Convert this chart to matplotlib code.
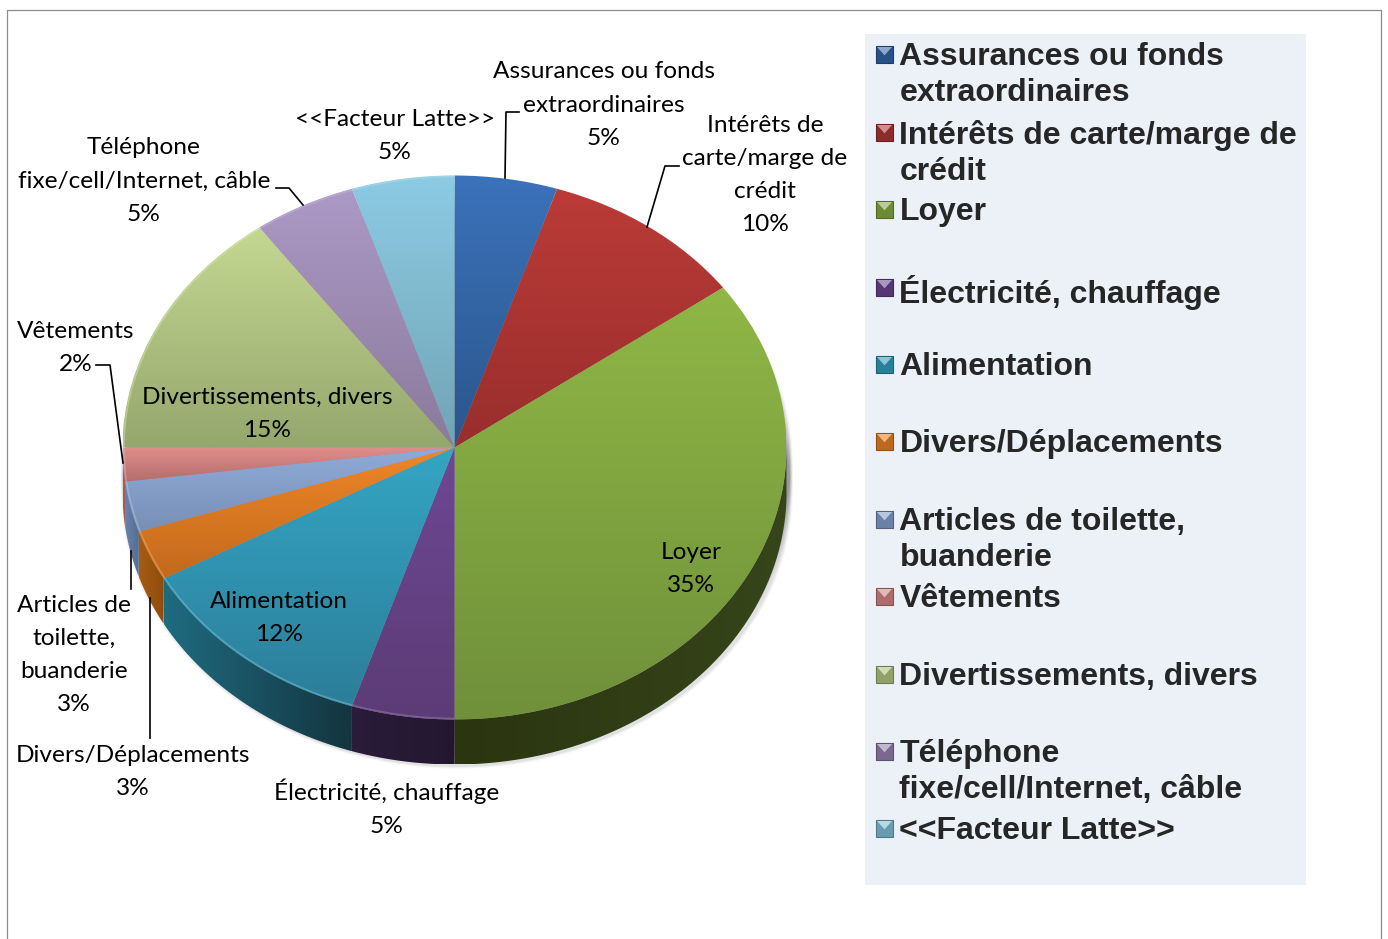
import numpy as np
import matplotlib
matplotlib.use("Agg")
import matplotlib.pyplot as plt
from matplotlib.colors import to_rgb, LinearSegmentedColormap
from matplotlib.patches import Ellipse, Polygon, Rectangle

categories = ["Assurances ou fonds extraordinaires", "Intérêts de carte/marge de crédit", "Loyer",
              "Électricité, chauffage", "Alimentation", "Divers/Déplacements",
              "Articles de toilette, buanderie", "Vêtements", "Divertissements, divers",
              "Téléphone fixe/cell/Internet, câble", "<<Facteur Latte>>"]
values = [5, 10, 35, 5, 12, 3, 3, 2, 15, 5, 5]

label_lines = ["Assurances ou fonds\nextraordinaires", "Intérêts de\ncarte/marge de\ncrédit", "Loyer",
               "Électricité, chauffage", "Alimentation", "Divers/Déplacements",
               "Articles de\ntoilette,\nbuanderie", "Vêtements", "Divertissements, divers",
               "Téléphone\nfixe/cell/Internet, câble", "<<Facteur Latte>>"]
label_xy = [(604, 105), (765, 175), (691, 569), (387, 808), (279, 618), (133, 772),
            (74, 655), (76, 348), (267, 414), (144, 181), (395, 136)]

legend_lines = ["Assurances ou fonds\nextraordinaires", "Intérêts de carte/marge de\ncrédit", "Loyer",
                "Électricité, chauffage", "Alimentation", "Divers/Déplacements",
                "Articles de toilette,\nbuanderie", "Vêtements", "Divertissements, divers",
                "Téléphone\nfixe/cell/Internet, câble", "<<Facteur Latte>>"]
legend_y = [55, 133, 210, 288, 365, 442, 520, 597, 675, 752, 829]

top_colors = ["#3b72ba", "#bb3b38", "#8fb746", "#6e4794", "#34a5c4", "#ef8727",
              "#90abda", "#e28e8c", "#c4d892", "#ac99c6", "#8ccbe4"]
bottom_colors = ["#2b568c", "#992e2c", "#70903a", "#5c3c76", "#2c7e99", "#c2691d",
                 "#788fb4", "#b16d6c", "#95a76d", "#8b7a9b", "#72a4b4"]
side_left = ["#2a4a75", "#702523", "#2b3510", "#2a1c3a", "#1f6b80", "#a85c12",
             "#6a82ac", "#b06060", "#6f7f4c", "#67587a", "#5a8da0"]
side_right = ["#223c60", "#5a1e1c", "#36451a", "#231730", "#143540", "#8f4c0c",
              "#566d91", "#9a5252", "#5d6b40", "#574a68", "#4c7888"]
legend_colors = ["#2f5f9f", "#a83432", "#7fa33e", "#65418a", "#2f96b4", "#e07b22",
                 "#7f98c4", "#cc7f7d", "#a9bf7c", "#8f7ca8", "#7cb8cf"]

W, H = 1388, 939
cx, cy, rx, ry, depth = 454.5, 447.5, 332, 272, 45
pad = 30  # pixels of free room kept round the pie in its axes
fig = plt.figure(figsize=(W / 100, H / 100), dpi=100, facecolor="white")

bg = fig.add_axes([0, 0, 1, 1])
bg.set_xlim(0, W)
bg.set_ylim(H, 0)
bg.axis("off")
bg.plot([7, 7, 1381, 1381], [H, 10, 10, H], color="#8c8c8c", lw=0.9)
bg.add_patch(Rectangle((865, 34), 441, 851, fc="#ecf1f8", ec="none"))

bottom_px = cy + ry + depth + pad
ax = fig.add_axes([(cx - rx - pad) / W, 1 - bottom_px / H, (2 * rx + 2 * pad) / W, (2 * ry + depth + 2 * pad) / H])
ax.patch.set_alpha(0)
d = depth / ry

# soft shadow
for grow, a in zip([0.024, 0.017, 0.010], [0.08, 0.11, 0.16]):
    for off in (0.25 * d, 0.5 * d, 0.75 * d, d):
        ax.add_patch(Ellipse((0.007, -off - 0.004), 2 + grow, 2 + grow, fc="#000000", ec="none",
                             alpha=a / 3, zorder=1))

wedges, _ = ax.pie(values, startangle=90, counterclock=False, radius=1,
                   wedgeprops=dict(lw=0, fc="none", ec="none"))
ax.set_aspect("auto")

def cmap2(c1, c2):
    return LinearSegmentedColormap.from_list("g", [to_rgb(c1), to_rgb(c2)])

for i, w in enumerate(wedges):
    # side wall of the lower half
    a0, a1 = max(w.theta1, -180), min(w.theta2, 0)
    if a1 > a0:
        t = np.radians(np.linspace(a0, a1, 80))
        xs, ys = np.cos(t), np.sin(t)
        pts = np.r_[np.c_[xs, ys], np.c_[xs, ys - d][::-1]]
        poly = Polygon(pts, closed=True, fc="none", ec="none", transform=ax.transData)
        ax.add_patch(poly)
        im = ax.imshow(np.linspace(0, 1, 64).reshape(1, -1), cmap=cmap2(side_left[i], side_right[i]),
                       extent=[xs.min(), xs.max(), (ys - d).min(), ys.max()], aspect="auto", zorder=2)
        im.set_clip_path(poly)
    # top face with vertical gradient
    bb = w.get_patch_transform().transform_path(w.get_path()).get_extents()
    im = ax.imshow(np.linspace(0, 1, 128).reshape(-1, 1), cmap=cmap2(top_colors[i], bottom_colors[i]),
                   extent=[bb.x0, bb.x1, bb.y0, bb.y1], origin="upper", aspect="auto", zorder=3)
    im.set_clip_path(w)
    # bevel along the front rim only
    if w.theta2 <= 0:
        t = np.radians(np.linspace(w.theta1, w.theta2, 100))
        rim = 0.7 * np.array(to_rgb(top_colors[i])) + 0.3
        ax.plot(0.996 * np.cos(t), 0.996 * np.sin(t), color=rim, lw=1.2, alpha=0.5, zorder=4,
                solid_capstyle="butt")

ax.set_xlim(-1 - pad / rx, 1 + pad / rx)
ax.set_ylim(-1 - (depth + pad) / ry, 1 + pad / ry)
ax.axis("off")

fg = fig.add_axes([0, 0, 1, 1])
fg.set_xlim(0, W)
fg.set_ylim(H, 0)
fg.axis("off")
fg.patch.set_alpha(0)

for txt, v, (x, y) in zip(label_lines, values, label_xy):
    fg.text(x, y, f"{txt}\n{v}%", ha="center", va="center", fontsize=17.6, family="Lato",
            color="black", linespacing=1.71, multialignment="center")

leaders = [[(505, 178), (506, 112), (519, 112)], [(647, 227), (665, 166), (679, 166)],
           [(123, 463), (110, 365), (96, 365)], [(131, 551), (131, 589)],
           [(150.5, 598), (150.5, 738)], [(303, 205), (289, 188), (276, 188)]]
for seg in leaders:
    xs, ys = zip(*seg)
    fg.plot(xs, ys, color="black", lw=1.2, solid_joinstyle="round")

for txt, y, col in zip(legend_lines, legend_y, legend_colors):
    fg.text(899.5, y - 13, txt, ha="left", va="top", fontsize=23, fontweight="bold",
            family="Liberation Sans", color="#262626", linespacing=1.24)
    base = np.array(to_rgb(col))
    x0, y0, mw, mh = 876, y - 9, 17, 17
    fg.add_patch(Rectangle((x0, y0), mw, mh, fc=base * 0.85, ec=base * 0.65, lw=0.8))
    fg.add_patch(Polygon([(x0 + 1, y0 + 1), (x0 + mw - 1, y0 + 1), (x0 + mw / 2, y0 + mh * 0.55)],
                         closed=True, fc=base * 0.55 + 0.45, ec="none"))

fig.savefig("out.png", dpi=100, facecolor="white")
